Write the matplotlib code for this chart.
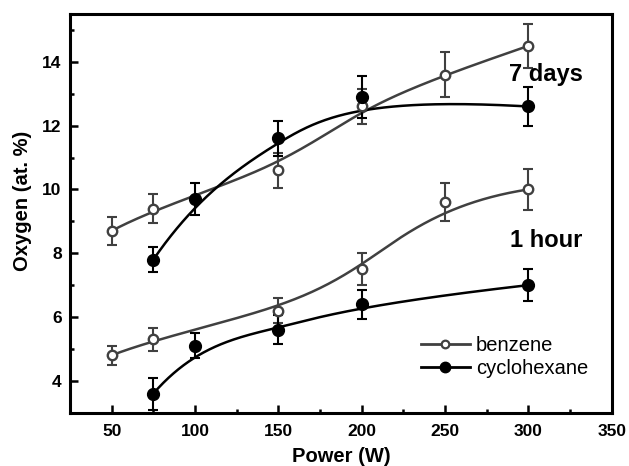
import numpy as np
import matplotlib
matplotlib.use("Agg")
import matplotlib.pyplot as plt
from matplotlib.ticker import MultipleLocator

plt.rcParams['font.family'] = ['Liberation Sans', 'DejaVu Sans']

# 7 days
benz7_x = [50, 75, 150, 200, 250, 300]
benz7_y = [8.7, 9.4, 10.6, 12.6, 13.6, 14.5]
benz7_e = [0.45, 0.45, 0.55, 0.55, 0.7, 0.7]
cyc7_x = [75, 100, 150, 200, 300]
cyc7_y = [7.8, 9.7, 11.6, 12.9, 12.6]
cyc7_e = [0.4, 0.5, 0.55, 0.65, 0.6]
# 1 hour
benz1_x = [50, 75, 150, 200, 250, 300]
benz1_y = [4.8, 5.3, 6.2, 7.5, 9.6, 10.0]
benz1_e = [0.3, 0.35, 0.4, 0.5, 0.6, 0.65]
cyc1_x = [75, 100, 150, 200, 300]
cyc1_y = [3.6, 5.1, 5.6, 6.4, 7.0]
cyc1_e = [0.5, 0.4, 0.45, 0.45, 0.5]

gray = '#404040'
fig = plt.figure(figsize=(6.29, 4.66), dpi=100)
ax = fig.add_axes([70/629, 1-412.7/466, 541.7/629, 398.7/466])


def bspline(xp, yp, k=3, n=300):
    """Clamped uniform B-spline using the data points as control points."""
    P = np.column_stack([xp, yp]).astype(float)
    m = len(P)
    knots = np.concatenate([np.zeros(k), np.arange(m - k + 1), np.full(k, m - k)]).astype(float)
    t = np.linspace(0, m - k, n)
    t[-1] -= 1e-9

    def N(i, p):
        if p == 0:
            return ((knots[i] <= t) & (t < knots[i + 1])).astype(float)
        out = np.zeros_like(t)
        d1 = knots[i + p] - knots[i]
        if d1 > 0:
            out += (t - knots[i]) / d1 * N(i, p - 1)
        d2 = knots[i + p + 1] - knots[i + 1]
        if d2 > 0:
            out += (knots[i + p + 1] - t) / d2 * N(i + 1, p - 1)
        return out

    B = np.array([N(i, k) for i in range(m)])
    C = B.T @ P
    return C[:, 0], C[:, 1]


def series(x, y, e, color, filled):
    xs, ys = bspline(x, y)
    ax.plot(xs, ys, color=color, lw=1.8, zorder=2)
    ax.errorbar(x, y, yerr=e, fmt='none', ecolor=color, elinewidth=1.5,
                capsize=3.6, capthick=1.5, zorder=3)
    if filled:
        ax.plot(x, y, 'o', ms=8.5, mew=1, mec=color, mfc=color, zorder=4)
    else:
        ax.plot(x, y, 'o', ms=6.8, mew=1.7, mec=color, mfc='white', zorder=4)


series(benz7_x, benz7_y, benz7_e, gray, False)
series(cyc7_x, cyc7_y, cyc7_e, 'black', True)
series(benz1_x, benz1_y, benz1_e, gray, False)
series(cyc1_x, cyc1_y, cyc1_e, 'black', True)

ax.plot([], [], '-o', color=gray, lw=2, ms=5.5, mew=1.6, mfc='white', mec=gray, label='benzene')
ax.plot([], [], '-o', color='black', lw=2, ms=7.5, mew=1, mfc='black', mec='black', label='cyclohexane')
leg = ax.legend(loc='upper left', bbox_to_anchor=(0.615, 0.238), frameon=False,
                fontsize=14.5, handlelength=2.4, handletextpad=0.3, labelspacing=0.2,
                borderpad=0.4)

ax.text(310.7, 13.4, '7 days', fontsize=17, fontweight='bold', ha='center', va='baseline')
ax.text(310.5, 8.2, '1 hour', fontsize=17, fontweight='bold', ha='center', va='baseline')

ax.set_xlim(25, 350)
ax.set_ylim(3, 15.5)
ax.xaxis.set_major_locator(MultipleLocator(50))
ax.xaxis.set_minor_locator(MultipleLocator(25))
ax.yaxis.set_major_locator(MultipleLocator(2))
ax.yaxis.set_minor_locator(MultipleLocator(1))
ax.tick_params(which='both', direction='in', width=1.8)
ax.tick_params(which='major', length=6, labelsize=12.5)
ax.tick_params(axis='x', which='major', pad=8)
ax.tick_params(axis='y', which='major', pad=6)
ax.tick_params(which='minor', length=3.2)
for lab in ax.get_xticklabels() + ax.get_yticklabels():
    lab.set_fontweight('bold')
for s in ax.spines.values():
    s.set_linewidth(2.2)
ax.set_xlabel('Power (W)', fontsize=14.5, fontweight='bold')
ax.set_ylabel('Oxygen (at. %)', fontsize=14.5, fontweight='bold')
ax.xaxis.set_label_coords(0.5, -0.086)
ax.yaxis.set_label_coords(-0.071, 0.531)

fig.savefig('out.png', dpi=100)
